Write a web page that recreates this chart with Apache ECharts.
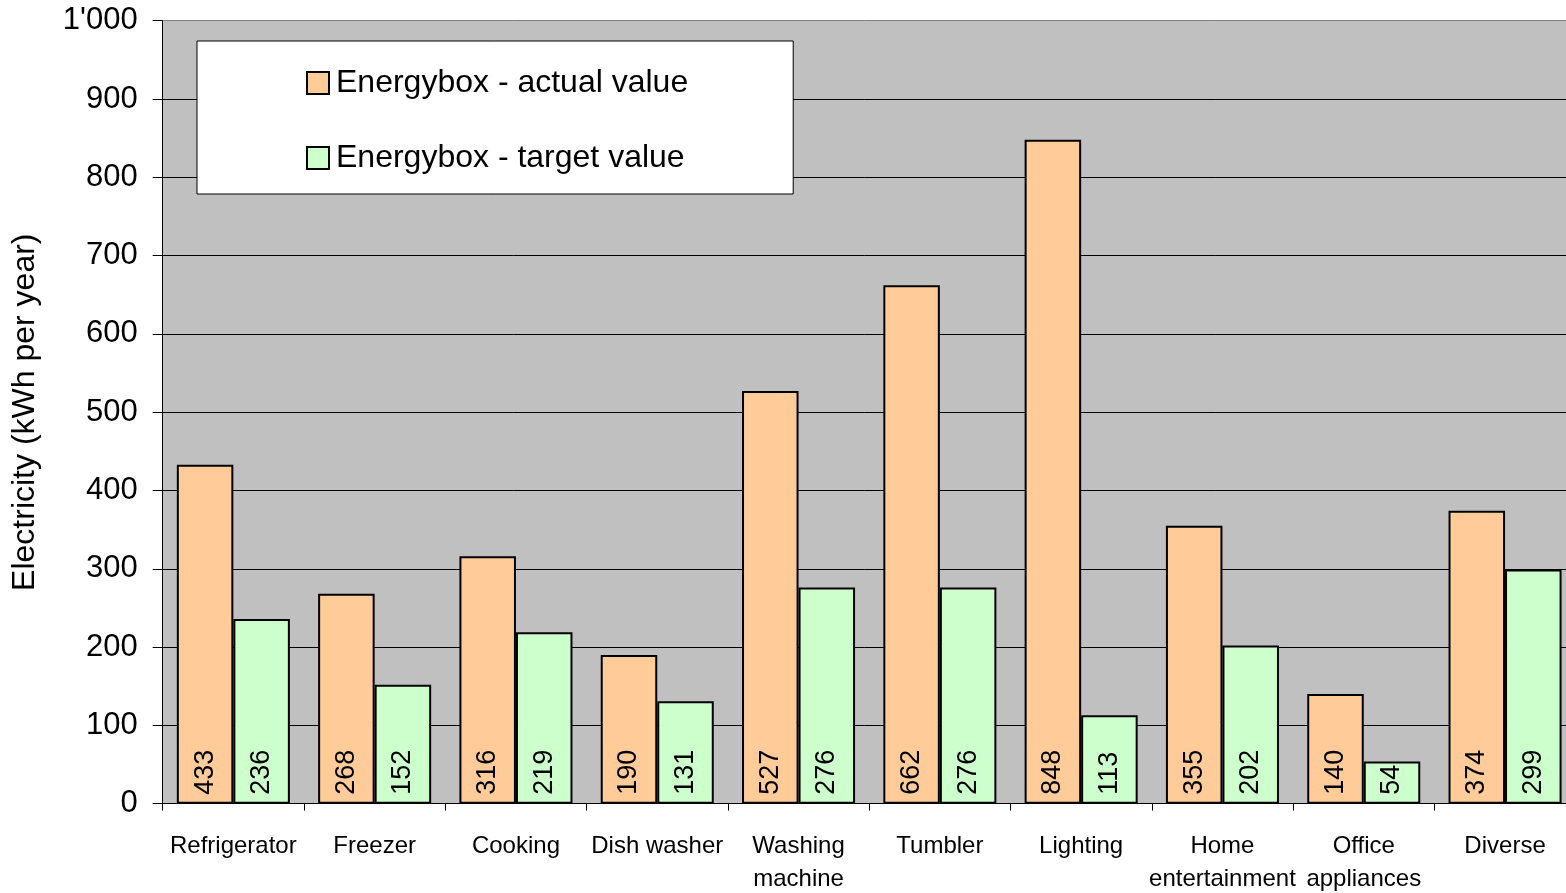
<!DOCTYPE html>
<html>
<head>
<meta charset="utf-8">
<script src="https://cdn.jsdelivr.net/npm/echarts@6/dist/echarts.min.js"></script>
<style>
html,body{margin:0;padding:0;background:#fff;}
#chart{width:1566px;height:893px;}
</style>
</head>
<body>
<div id="chart"></div>
<script>
const categories = ['Refrigerator','Freezer','Cooking','Dish washer','Washing\nmachine','Tumbler','Lighting','Home\nentertainment','Office\nappliances','Diverse'];
const actualValues = [433,268,316,190,527,662,848,355,140,374];
const targetValues = [236,152,219,131,276,276,113,202,54,299];
const seriesNames = ['Energybox - actual value','Energybox - target value'];
const yTicks = [0,100,200,300,400,500,600,700,800,900,1000];
const yAxisName = 'Electricity (kWh per year)';

const chart = echarts.init(document.getElementById('chart'));
const baseFont = "'Liberation Sans', Arial, sans-serif";
const narrowFont = "'Liberation Sans Narrow', 'Arial Narrow', 'Liberation Sans', sans-serif";

function fmt(v){
  return v >= 1000 ? Math.floor(v/1000) + "'" + String(v%1000).padStart(3,'0') : String(v);
}

const labelCfg = {
  show: true,
  position: 'insideBottom',
  rotate: 90,
  align: 'left',
  verticalAlign: 'middle',
  distance: 9,
  fontFamily: baseFont,
  fontSize: 27,
  color: '#000'
};

const splitColors = yTicks.map((t,i) => i === yTicks.length-1 ? '#808080' : '#000');

chart.setOption({
  animation: false,
  backgroundColor: '#fff',
  grid: {
    left: 162.7, top: 20.7, width: 1413, height: 783,
    outerBoundsMode: 'none',
    containLabel: false,
    show: true, backgroundColor: '#c0c0c0', borderWidth: 0
  },
  legend: {
    orient: 'vertical',
    left: 197, top: 41,
    backgroundColor: '#fff',
    borderColor: '#000',
    borderWidth: 1,
    padding: [26, 105, 20, 109],
    itemWidth: 22, itemHeight: 22,
    itemGap: 43,
    icon: 'rect',
    textStyle: { fontFamily: baseFont, fontSize: 32, lineHeight: 32, color: '#000', padding: [0,0,0,2] },
    data: seriesNames
  },
  xAxis: {
    type: 'category',
    data: categories,
    axisLine: { show: true, lineStyle: { color: '#000', width: 1 } },
    axisTick: { show: true, length: 7, lineStyle: { color: '#000' } },
    axisLabel: {
      fontFamily: narrowFont, fontSize: 24, color: '#000', margin: 26,
      lineHeight: 33, interval: 0
    }
  },
  yAxis: {
    type: 'value',
    min: 0, max: 1000, interval: 100,
    name: yAxisName,
    nameLocation: 'middle',
    nameGap: 122,
    nameRotate: 90,
    nameTextStyle: { fontFamily: baseFont, fontSize: 32, color: '#000' },
    axisLine: { show: true, lineStyle: { color: '#000', width: 1 } },
    axisTick: { show: true, length: 10, lineStyle: { color: '#000' } },
    axisLabel: {
      fontFamily: baseFont, fontSize: 31, color: '#000', margin: 25,
      formatter: v => fmt(v)
    },
    splitLine: { show: true, lineStyle: { color: splitColors, width: 1 } }
  },
  series: [
    {
      name: seriesNames[0], type: 'bar', data: actualValues,
      barGap: '0%', barCategoryGap: '20%',
      itemStyle: { color: '#ffcc99', borderColor: '#000', borderWidth: 2 },
      label: labelCfg
    },
    {
      name: seriesNames[1], type: 'bar', data: targetValues,
      barGap: '0%', barCategoryGap: '20%',
      itemStyle: { color: '#ccffcc', borderColor: '#000', borderWidth: 2 },
      label: labelCfg
    }
  ]
});
</script>
</body>
</html>
